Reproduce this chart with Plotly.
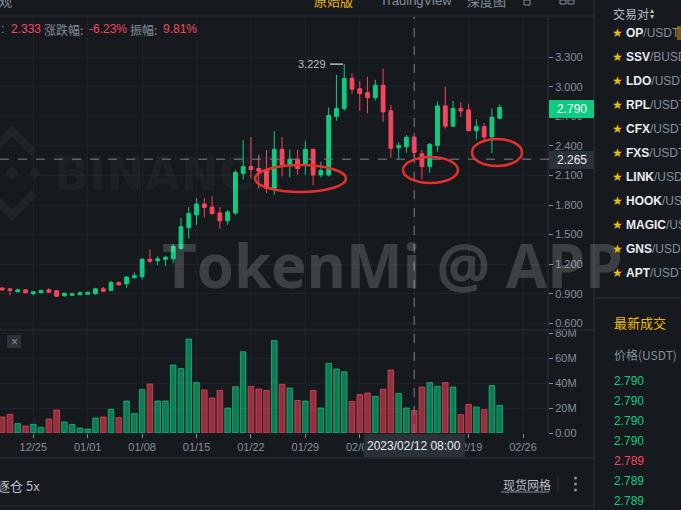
import plotly.graph_objects as go
import pandas as pd

# ---------------- data ----------------
dates = pd.date_range("2022-12-21", periods=65, freq="D")
open_ = [0.958, 0.95, 0.92, 0.94, 0.90, 0.91, 0.94, 0.93, 0.88, 0.885, 0.89, 0.895, 0.90, 0.95, 0.935, 1.015,
         1.0, 1.063, 1.075, 1.25, 1.235, 1.25, 1.255, 1.36, 1.57, 1.70, 1.81, 1.78, 1.72, 1.64, 1.72, 2.12,
         2.19, 2.17, 2.155, 1.97, 2.365, 2.205, 2.265, 2.205, 2.365, 2.105, 2.105, 2.70, 2.78, 3.085, 2.98,
         2.94, 2.89, 3.015, 2.755, 2.38, 2.39, 2.488, 2.32, 2.19, 2.405, 2.805, 2.60, 2.78, 2.765, 2.555,
         2.595, 2.49, 2.68]
high = [0.965, 0.955, 0.95, 0.945, 0.925, 0.94, 0.955, 0.935, 0.91, 0.905, 0.925, 0.92, 0.96, 0.97, 1.03, 1.025,
        1.08, 1.117, 1.26, 1.35, 1.28, 1.285, 1.405, 1.67, 1.78, 1.87, 1.87, 1.89, 1.78, 1.75, 2.155, 2.46,
        2.49, 2.31, 2.36, 2.55, 2.49, 2.365, 2.36, 2.45, 2.37, 2.24, 2.79, 3.12, 3.229, 3.135, 3.06,
        3.10, 3.07, 3.185, 2.815, 2.44, 2.51, 2.53, 2.36, 2.43, 2.85, 3.0, 2.855, 2.84, 2.83, 2.67,
        2.63, 2.78, 2.82]
low = [0.935, 0.885, 0.915, 0.905, 0.887, 0.905, 0.91, 0.87, 0.87, 0.88, 0.885, 0.89, 0.89, 0.92, 0.93, 0.985,
       0.96, 1.055, 1.045, 1.21, 1.19, 1.18, 1.21, 1.345, 1.46, 1.60, 1.675, 1.70, 1.56, 1.60, 1.70, 2.06,
       2.07, 1.97, 1.92, 1.905, 2.09, 2.08, 2.105, 2.105, 2.0, 2.08, 2.09, 2.655, 2.755, 2.93, 2.755,
       2.73, 2.86, 2.645, 2.28, 2.265, 2.33, 2.286, 2.06, 2.13, 2.34, 2.575, 2.595, 2.695, 2.545, 2.465,
       2.46, 2.325, 2.67]
close = [0.938, 0.935, 0.94, 0.91, 0.92, 0.935, 0.915, 0.875, 0.905, 0.90, 0.91, 0.915, 0.95, 0.925, 1.015, 0.99,
         1.07, 1.083, 1.25, 1.23, 1.255, 1.27, 1.38, 1.58, 1.715, 1.81, 1.775, 1.715, 1.64, 1.73, 2.13, 2.19,
         2.16, 2.145, 1.97, 2.365, 2.20, 2.265, 2.17, 2.365, 2.105, 2.15, 2.71, 2.78, 3.085, 2.975, 2.93,
         2.89, 3.015, 2.745, 2.375, 2.405, 2.488, 2.333, 2.19, 2.415, 2.805, 2.60, 2.78, 2.755, 2.555, 2.595,
         2.49, 2.69, 2.79]
volume_m = [12.8, 15.0, 7.5, 5.6, 6.9, 4.5, 11.2, 18.4, 8.8, 6.9, 4.0, 3.2, 12.0, 12.8, 19.0, 12.3,
            25.6, 15.5, 34.7, 39.2, 25.6, 25.6, 54.4, 51.5, 75.2, 40.3, 34.4, 28.0, 34.1, 20.0, 37.0, 65.0,
            37.3, 35.2, 34.1, 74.0, 39.0, 36.0, 26.0, 25.6, 34.1, 20.0, 55.7, 51.2, 49.0, 25.3, 30.7,
            32.0, 29.3, 35.0, 50.4, 31.7, 20.0, 17.9, 36.8, 40.3, 37.3, 40.3, 36.8, 14.7, 22.9, 20.8,
            18.7, 37.9, 22.1]

week_ticks = pd.date_range("2022-12-25", periods=10, freq="7D")
week_labels = ["12/25", "01/01", "01/08", "01/15", "01/22", "01/29", "02/05", "02/12", "02/19", "02/26"]
price_ticks = [0.6, 0.9, 1.2, 1.5, 1.8, 2.1, 2.4, 2.7, 3.0, 3.3]
price_labels = ["0.600", "0.900", "1.200", "1.500", "1.800", "2.100", "2.400", "2.700", "3.000", "3.300"]
vol_ticks = [0, 20, 40, 60, 80]
vol_labels = ["0.00", "20M", "40M", "60M", "80M"]

last_price = 2.790
cross_price = 2.265
cross_date = "2023-02-12"
max_price = 3.229
max_date = "2023-02-03"

pairs_sym = ["OP", "SSV", "LDO", "RPL", "CFX", "FXS", "LINK", "HOOK", "MAGIC", "GNS", "APT"]
pairs_quote = ["/USDT", "/BUSD", "/USDT", "/USDT", "/USDT", "/USDT", "/USDT", "/USDT", "/USDT", "/USDT", "/USDT"]
trade_prices = ["2.790", "2.790", "2.790", "2.790", "2.789", "2.789", "2.789"]
trade_up = [True, True, True, True, False, True, True]

# ---------------- style ----------------
W, H = 681, 510
BG = "#161a1e"
GRID = "#1f2328"
SEP = "#2b3139"
TXT = "#848e9c"
GREEN = "#0ecb81"
RED = "#f6465d"
GOLD = "#f0b90b"
FONT = "Arial"
CJK = "Noto Sans CJK SC"


def px(x):
    return x / W


def py(y):
    return 1 - y / H


xr = [pd.Timestamp("2022-12-20 17:11"), pd.Timestamp("2023-03-01 05:11")]

fig = go.Figure()
fig.add_trace(go.Candlestick(
    x=dates, open=open_, high=high, low=low, close=close,
    xaxis="x", yaxis="y",
    increasing=dict(line=dict(color=GREEN, width=1), fillcolor=GREEN),
    decreasing=dict(line=dict(color=RED, width=1), fillcolor=RED),
    whiskerwidth=0, hoverinfo="skip", showlegend=False,
))

vfill = ["rgba(14,203,129,0.55)" if c >= o else "rgba(246,70,93,0.55)" for o, c in zip(open_, close)]
vline = ["rgba(14,203,129,0.7)" if c >= o else "rgba(246,70,93,0.7)" for o, c in zip(open_, close)]
fig.add_trace(go.Bar(
    x=dates, y=volume_m, xaxis="x2", yaxis="y2",
    marker=dict(color=vfill, line=dict(color=vline, width=1)),
    width=0.72 * 86400000, hoverinfo="skip", showlegend=False,
))

axis_common = dict(showline=False, zeroline=False, gridcolor=GRID, gridwidth=1, automargin=False)

fig.update_layout(
    width=W, height=H, margin=dict(l=0, r=0, t=0, b=0, autoexpand=False),
    paper_bgcolor=BG, plot_bgcolor=BG, showlegend=False,
    bargap=0, hovermode=False,
    xaxis=dict(domain=[0, px(548)], anchor="y", type="date", range=xr,
               tickmode="array", tickvals=week_ticks, showticklabels=False, ticks="",
               rangeslider=dict(visible=False), **axis_common),
    xaxis2=dict(domain=[0, px(548)], anchor="y2", type="date", range=xr,
                tickmode="array", tickvals=week_ticks, ticktext=week_labels,
                ticks="outside", ticklen=4, tickcolor=TXT,
                tickfont=dict(family=FONT, size=11, color=TXT), **axis_common),
    yaxis=dict(domain=[py(330), py(17)], anchor="x", range=[0.5325, 3.707], side="right",
               tickmode="array", tickvals=price_ticks, ticktext=price_labels,
               ticks="outside", ticklen=4, tickcolor=TXT,
               tickfont=dict(family=FONT, size=11, color=TXT), **axis_common),
    yaxis2=dict(domain=[py(433), py(330)], anchor="x2", range=[0, 82.4], side="right",
                tickmode="array", tickvals=vol_ticks, ticktext=vol_labels,
                ticks="outside", ticklen=4, tickcolor=TXT,
                tickfont=dict(family=FONT, size=11, color=TXT), **axis_common),
)

shapes = []
ann = []


def hline(y, x0, x1, color=SEP, width=1, dash="solid"):
    shapes.append(dict(type="line", xref="paper", yref="paper", x0=px(x0), x1=px(x1), y0=py(y), y1=py(y),
                       line=dict(color=color, width=width, dash=dash), layer="above"))


def vline_(x, y0, y1, color=SEP, width=1, dash="solid"):
    shapes.append(dict(type="line", xref="paper", yref="paper", x0=px(x), x1=px(x), y0=py(y0), y1=py(y1),
                       line=dict(color=color, width=width, dash=dash), layer="above"))


def rect(x0, y0, x1, y1, fill, line=None):
    shapes.append(dict(type="rect", xref="paper", yref="paper", x0=px(x0), x1=px(x1), y0=py(y1), y1=py(y0),
                       fillcolor=fill, line=dict(width=0 if line is None else 1, color=line or fill),
                       layer="above"))


def text(x, y, s, size=12, color=TXT, anchor="left", family=FONT, bold=False):
    if bold:
        s = "<b>" + s + "</b>"
    ann.append(dict(x=px(x), y=py(y), xref="paper", yref="paper", text=s, showarrow=False,
                    xanchor=anchor, yanchor="middle", font=dict(size=size, color=color, family=family)))


# separators
hline(16, 0, 594)
hline(330, 0, 594)
hline(458, 0, 594)
hline(506, 0, 594)
vline_(548, 17, 433)
vline_(594, 0, 510)
hline(298, 594, 681)

# Binance watermark logo (faint)
wm = "rgba(255,255,255,0.045)"
for cx, cy, r in [(12, 173, 7), (35, 173, 6), (-11, 173, 6)]:
    shapes.append(dict(type="path", xref="paper", yref="paper",
                       path=f"M {px(cx-r)},{py(cy)} L {px(cx)},{py(cy-r)} L {px(cx+r)},{py(cy)} L {px(cx)},{py(cy+r)} Z",
                       fillcolor=wm, line=dict(width=0), layer="below"))
for sgn in (-1, 1):
    shapes.append(dict(type="path", xref="paper", yref="paper",
                       path=f"M {px(-10)},{py(173+sgn*20)} L {px(12)},{py(173+sgn*42)} L {px(34)},{py(173+sgn*20)}",
                       line=dict(color=wm, width=8), layer="below"))
text(52, 174, "BINANCE", size=46, color=wm, bold=True, family="DejaVu Sans")

# crosshair
shapes.append(dict(type="line", xref="x", yref="paper", x0=cross_date, x1=cross_date, y0=py(433), y1=py(17),
                   line=dict(color="#7b8390", width=1, dash="dash"), layer="above"))
shapes.append(dict(type="line", xref="paper", yref="y", x0=0, x1=px(552), y0=cross_price, y1=cross_price,
                   line=dict(color="#7b8390", width=1, dash="dash"), layer="above"))

# max marker
shapes.append(dict(type="line", xref="paper", yref="y", x0=px(330), x1=px(343), y0=max_price, y1=max_price,
                   line=dict(color="#b7bdc6", width=1.5), layer="above"))
ann.append(dict(x=px(328), y=max_price, xref="paper", yref="y", text=f"{max_price:.3f}", showarrow=False,
                xanchor="right", yanchor="middle", font=dict(size=11, color="#b7bdc6", family=FONT)))

# price boxes
rect(549, 100, 594, 118, GREEN)
ann.append(dict(x=px(571.5), y=py(109), xref="paper", yref="paper", text=f"{last_price:.3f}", showarrow=False,
                xanchor="center", yanchor="middle", font=dict(size=12, color="#ffffff", family=FONT)))
rect(549, 151, 594, 169, SEP)
ann.append(dict(x=px(571.5), y=py(160), xref="paper", yref="paper", text=f"{cross_price:.3f}", showarrow=False,
                xanchor="center", yanchor="middle", font=dict(size=12, color="#eaecef", family=FONT)))

# date tooltip
rect(364, 434, 465, 457, SEP)
text(414.5, 445.5, "2023/02/12 08:00", size=12, color="#eaecef", anchor="center")

# red hand-drawn ellipses
for x0, y0, x1, y1 in [(255, 165, 346, 192), (403, 157, 458, 183), (472, 139, 522, 166)]:
    shapes.append(dict(type="circle", xref="paper", yref="paper", x0=px(x0), x1=px(x1), y0=py(y1), y1=py(y0),
                       line=dict(color="#e5302c", width=2.5), layer="above"))

# header row (cut at top)
text(333, 0, "原始版", size=13, color=GOLD, anchor="center", family=CJK)
text(378, 0, "TradingView", size=13, color=TXT)
text(465, 0, "深度图", size=13, color=TXT, family=CJK)
text(-3, 0, "观", size=13, color=TXT, family=CJK)
rect(524, 0, 530, 5, None, TXT)
rect(560, 0, 566, 4, None, TXT)
rect(568, 0, 574, 4, None, TXT)

# info row
text(-1, 29, ":", size=12, color=TXT)
text(9, 29, "2.333", size=12, color=RED)
text(42, 29, "涨跌幅:", size=12, color=TXT, family=CJK)
text(87, 29, "-6.23%", size=12, color=RED)
text(128, 29, "振幅:", size=12, color=TXT, family=CJK)
text(161, 29, "9.81%", size=12, color=RED)

# volume pane close box
rect(7, 335, 21, 348, "#2b3139")
text(14, 341.5, "×", size=12, color=TXT, anchor="center")

# watermark (above candles, semi transparent)
text(160, 265, "TokenMi @ APP", size=60, color="rgba(255,255,255,0.17)", bold=True,
     family="Open Sans")

# side panel
text(611, 13, "交易对", size=12, color="#b7bdc6", family=CJK)
text(652, 10, "▴", size=8, color="#b7bdc6", anchor="center")
text(652, 16, "▾", size=8, color="#b7bdc6", anchor="center")
for k, (s, q) in enumerate(zip(pairs_sym, pairs_quote)):
    yy = 33 + 24 * k
    text(617, yy, "★", size=12, color=GOLD, anchor="center", family="DejaVu Sans")
    text(624, yy, f"<b>{s}</b><span style='color:{TXT}'>{q}</span>", size=12, color="#eaecef")
rect(677, 26, 681, 40, "#7a5a12")
text(612, 322, "最新成交", size=13, color=GOLD, family=CJK)
text(612, 354, "价格(USDT)", size=12, color=TXT, family=CJK)
for k, (p, up) in enumerate(zip(trade_prices, trade_up)):
    text(612, 381 + 20 * k, p, size=12, color=GREEN if up else RED)

# bottom bar
text(-5, 485, "逐仓 5x", size=13, color="#b7bdc6", family=CJK)
text(501, 484, "现货网格", size=12, color="#b7bdc6", family=CJK)
hline(492, 501, 549, color=TXT)
vline_(558, 476, 492, color=SEP)
for yy in (478, 484, 490):
    shapes.append(dict(type="circle", xref="paper", yref="paper", x0=px(574), x1=px(577), y0=py(yy + 1.5),
                       y1=py(yy - 1.5), fillcolor=TXT, line=dict(width=0), layer="above"))

fig.update_layout(shapes=shapes, annotations=ann)
fig.write_html("out.html", config={"displayModeBar": False, "staticPlot": True},
               post_script="document.body.style.margin='0';document.body.style.overflow='hidden';"
                           "document.body.style.background='" + BG + "';")
